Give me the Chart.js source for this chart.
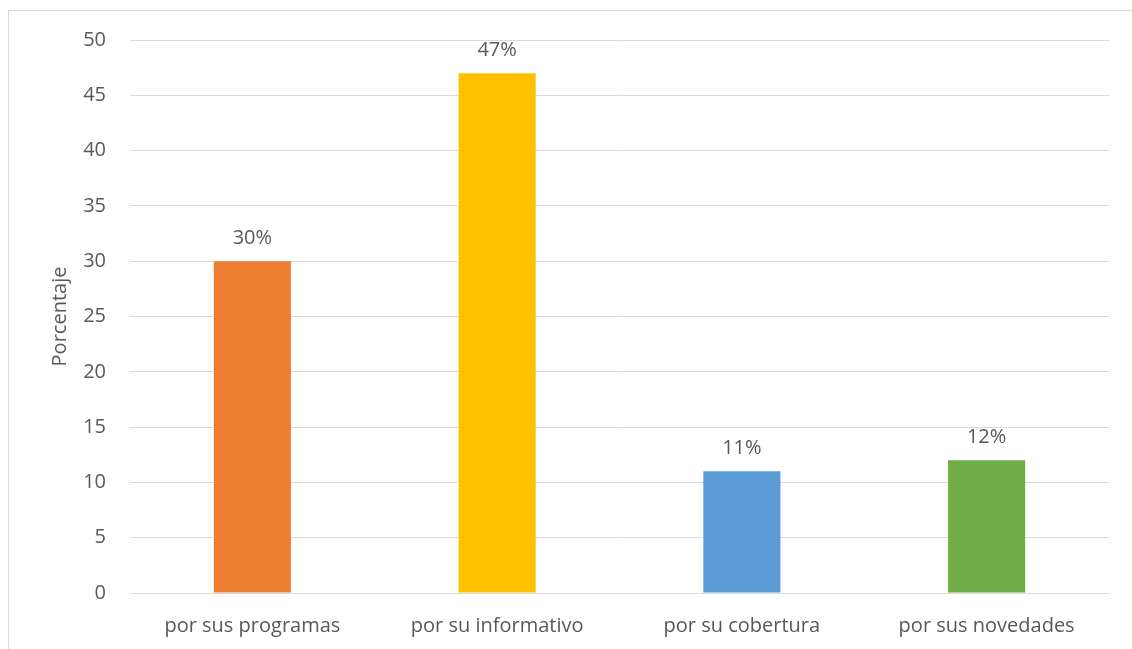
<!DOCTYPE html>
<html>
<head>
<meta charset="utf-8">
<script src="https://cdn.jsdelivr.net/npm/chart.js"></script>
<style>
  html, body { margin: 0; padding: 0; background: #fff; overflow: hidden; }
  #wrap { position: relative; width: 1132px; height: 649px; }
  #frame { position: absolute; left: 8px; top: 10px; width: 1200px; height: 700px; border: 1px solid #d9d9d9; box-sizing: border-box; }
  #myChart { position: absolute; left: 0; top: 0; }
</style>
</head>
<body>
<div id="wrap">
  <div id="frame"></div>
  <canvas id="myChart" width="1132" height="649"></canvas>
</div>
<script>
// data
const categories = ['por sus programas', 'por su informativo', 'por su cobertura', 'por sus novedades'];
const values = [30, 47, 11, 12];
const barColors = ['#ED7D31', '#FFC000', '#5B9BD5', '#70AD47'];
const yTicks = [0, 5, 10, 15, 20, 25, 30, 35, 40, 45, 50];

const textColor = '#595959';
const fontFamily = '"Open Sans", "Liberation Sans", sans-serif';
const fontSize = 20;

// labels above the bars
const valueLabels = {
  id: 'valueLabels',
  afterDatasetsDraw(chart) {
    const ctx = chart.ctx;
    const meta = chart.getDatasetMeta(0);
    ctx.save();
    ctx.font = fontSize + 'px ' + fontFamily;
    ctx.fillStyle = textColor;
    ctx.textAlign = 'center';
    ctx.textBaseline = 'middle';
    meta.data.forEach((bar, i) => {
      ctx.fillText(values[i] + '%', bar.x, bar.y - 23);
    });
    ctx.restore();
  }
};

const data = {
  labels: categories,
  datasets: [{
    data: values,
    backgroundColor: barColors,
    barPercentage: 0.315,
    categoryPercentage: 1
  }]
};

const config = {
  type: 'bar',
  data,
  options: {
    responsive: false,
    animation: false,
    layout: { padding: { top: 40, right: 23, left: 0, bottom: 0 } },
    plugins: { legend: { display: false }, tooltip: { enabled: false } },
    scales: {
      x: {
        grid: { display: false, drawTicks: false },
        border: { display: true, color: '#d9d9d9' },
        ticks: { color: textColor, font: { family: fontFamily, size: fontSize }, padding: 21 },
        afterFit(scale) { scale.height = 56; }
      },
      y: {
        min: 0,
        max: 50,
        afterBuildTicks(scale) { scale.ticks = yTicks.map(v => ({ value: v })); },
        grid: { color: '#d9d9d9', drawTicks: false },
        border: { display: false },
        ticks: { color: textColor, font: { family: fontFamily, size: fontSize }, padding: 24 },
        title: {
          display: true,
          text: 'Porcentaje',
          color: textColor,
          font: { family: fontFamily, size: fontSize },
          padding: { top: 48, bottom: 0 }
        },
        afterFit(scale) { scale.width = 130; }
      }
    }
  },
  plugins: [valueLabels]
};

const myChart = new Chart(document.getElementById('myChart'), config);
</script>
</body>
</html>
